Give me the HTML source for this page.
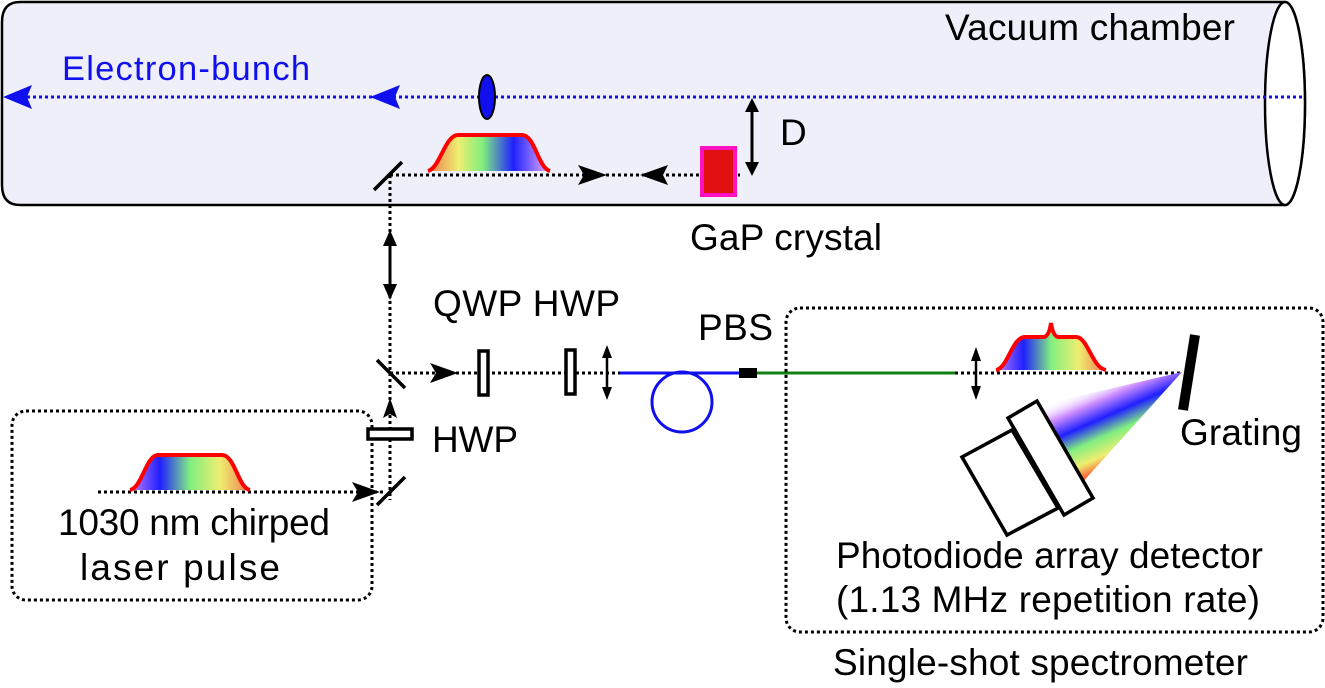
<!DOCTYPE html>
<html><head><meta charset="utf-8"><style>body{margin:0;background:#fff}svg{display:block}text{font-family:"Liberation Sans",sans-serif;font-size:37px}</style></head><body>
<svg width="1325" height="688" viewBox="0 0 1325 688">
<defs>
<linearGradient id="g1" x1="0" x2="1"><stop offset="0" stop-color="#f07a50"/><stop offset=".25" stop-color="#eeee70"/><stop offset=".45" stop-color="#80ee80"/><stop offset=".7" stop-color="#2020ff"/><stop offset="1" stop-color="#e8b0ff"/></linearGradient>
<linearGradient id="g2" x1="0" x2="1"><stop offset="0" stop-color="#c080ff"/><stop offset=".25" stop-color="#2020ff"/><stop offset=".5" stop-color="#80ee80"/><stop offset=".75" stop-color="#eeee70"/><stop offset="1" stop-color="#f07a50"/></linearGradient>
<linearGradient id="g3" gradientUnits="userSpaceOnUse" x1="1045" y1="405" x2="1080" y2="485"><stop offset="0" stop-color="#fff" stop-opacity="0"/><stop offset=".2" stop-color="#d090ff"/><stop offset=".4" stop-color="#2020ff"/><stop offset=".6" stop-color="#80ee80"/><stop offset=".8" stop-color="#eeee70"/><stop offset="1" stop-color="#ff3020"/></linearGradient>
</defs>
<path d="M20,2 H1285 A20,101.5 0 0 1 1285,205 H20 Q2,205 2,185 V22 Q2,2 20,2Z" fill="#efeffa" stroke="#000" stroke-width="2.5"/>
<ellipse cx="1285" cy="103.5" rx="20" ry="101.5" fill="#fff" stroke="#000" stroke-width="2.5"/>
<text x="945" y="40" textLength="290">Vacuum chamber</text>
<text x="62" y="80" fill="#1010ee" style="font-size:34.5px" textLength="248">Electron-bunch</text>
<line x1="15" y1="97" x2="1305" y2="97" stroke="#1010ee" stroke-width="3" stroke-dasharray="3,3"/>
<path d="M3,97 L32,85 L27,97 L32,109Z M370,97 L400,85 L395,97 L400,109Z" fill="#1010ee"/>
<ellipse cx="487" cy="97" rx="8" ry="22" fill="#1010ee" stroke="#000" stroke-width="2"/>
<line x1="752" y1="104" x2="752" y2="170" stroke="#000" stroke-width="3"/>
<path d="M752,98 L745,112 L759,112Z M752,176 L745,162 L759,162Z"/>
<text x="780" y="145">D</text>
<path d="M428,171 C440,168 445,135 458,135 H522 C535,135 538,168 550,171Z" fill="url(#g1)"/>
<path d="M428,171 C440,168 445,135 458,135 H522 C535,135 538,168 550,171" fill="none" stroke="#f00" stroke-width="4"/>
<line x1="390" y1="175" x2="740" y2="175" stroke="#000" stroke-width="3" stroke-dasharray="3,3"/>
<path d="M607,175 L578,165 L584,175 L578,185Z M640,175 L668,165 L663,175 L668,185Z"/>
<rect x="702" y="148" width="33" height="47" fill="#e01010" stroke="#ff10c0" stroke-width="4"/>
<line x1="374" y1="190" x2="402" y2="162" stroke="#000" stroke-width="3.5"/>
<text x="690" y="250" textLength="192">GaP crystal</text>
<line x1="390" y1="175" x2="390" y2="500" stroke="#000" stroke-width="3" stroke-dasharray="3,3"/>
<line x1="390" y1="238" x2="390" y2="292" stroke="#000" stroke-width="3"/>
<path d="M390,230 L383,246 L397,246Z M390,300 L383,284 L397,284Z"/>
<line x1="377" y1="360" x2="405" y2="388" stroke="#000" stroke-width="3.5"/>
<line x1="390" y1="373" x2="620" y2="373" stroke="#000" stroke-width="3" stroke-dasharray="3,3"/>
<path d="M458,373 L430,363 L436,373 L430,383Z"/>
<rect x="479" y="351" width="9" height="44" fill="#fff" stroke="#000" stroke-width="3.5"/>
<rect x="566" y="350" width="9" height="44" fill="#fff" stroke="#000" stroke-width="3.5"/>
<line x1="607" y1="352" x2="607" y2="394" stroke="#000" stroke-width="2.5"/>
<path d="M607,345 L602,358 L612,358Z M607,400 L602,387 L612,387Z"/>
<text x="433" y="316" textLength="187">QWP HWP</text>
<text x="698" y="340" textLength="75">PBS</text>
<line x1="620" y1="373" x2="742" y2="373" stroke="#1010ee" stroke-width="3"/>
<circle cx="682" cy="402" r="30" fill="none" stroke="#1010ee" stroke-width="3"/>
<rect x="739" y="368" width="18" height="10" fill="#000"/>
<line x1="757" y1="373" x2="955" y2="373" stroke="#108010" stroke-width="3"/>
<line x1="955" y1="373" x2="1180" y2="373" stroke="#000" stroke-width="3" stroke-dasharray="3,3"/>
<line x1="976" y1="355" x2="976" y2="393" stroke="#000" stroke-width="2.5"/>
<path d="M976,347 L971,361 L981,361Z M976,400 L971,386 L981,386Z"/>
<path d="M996,370 C1008,368 1012,337 1025,337 H1044 Q1049,336 1051,323 Q1053,336 1058,337 H1076 C1088,337 1092,368 1106,370Z" fill="url(#g2)"/>
<path d="M996,370 C1008,368 1012,337 1025,337 H1044 Q1049,336 1051,323 Q1053,336 1058,337 H1076 C1088,337 1092,368 1106,370" fill="none" stroke="#f00" stroke-width="4"/>
<polygon points="1182,372 1040,405 1080,485" fill="url(#g3)"/>
<line x1="1195" y1="335" x2="1183" y2="410" stroke="#000" stroke-width="10"/>
<text x="1180" y="445" textLength="122">Grating</text>
<polygon points="962,457 1012,430 1058,508 1007,535" fill="#fff" stroke="#000" stroke-width="3.5"/>
<polygon points="1008,418 1037,401 1093,498 1064,515" fill="#fff" stroke="#000" stroke-width="3.5"/>
<text x="836" y="568" textLength="427">Photodiode array detector</text>
<text x="836" y="612" textLength="424">(1.13 MHz repetition rate)</text>
<rect x="786" y="308" width="537" height="324" rx="14" fill="none" stroke="#000" stroke-width="3" stroke-dasharray="3,3"/>
<text x="833" y="675" textLength="415">Single-shot spectrometer</text>
<rect x="12" y="411" width="360" height="189" rx="14" fill="none" stroke="#000" stroke-width="3" stroke-dasharray="3,3"/>
<path d="M390,398 L383,418 L390,414 L397,418Z"/>
<rect x="368" y="429" width="44" height="10" fill="#fff" stroke="#000" stroke-width="3.5"/>
<text x="432" y="452" textLength="86">HWP</text>
<line x1="377" y1="505" x2="405" y2="477" stroke="#000" stroke-width="3.5"/>
<line x1="98" y1="492" x2="385" y2="492" stroke="#000" stroke-width="3" stroke-dasharray="3,3"/>
<path d="M380,492 L352,482 L358,492 L352,502Z"/>
<path d="M130,490 C142,488 146,455 158,455 H222 C235,455 238,488 250,490Z" fill="url(#g2)"/>
<path d="M130,490 C142,488 146,455 158,455 H222 C235,455 238,488 250,490" fill="none" stroke="#f00" stroke-width="4"/>
<text x="58" y="535" textLength="272">1030 nm chirped</text>
<text x="80" y="580" textLength="200">laser pulse</text>
</svg>
</body></html>
